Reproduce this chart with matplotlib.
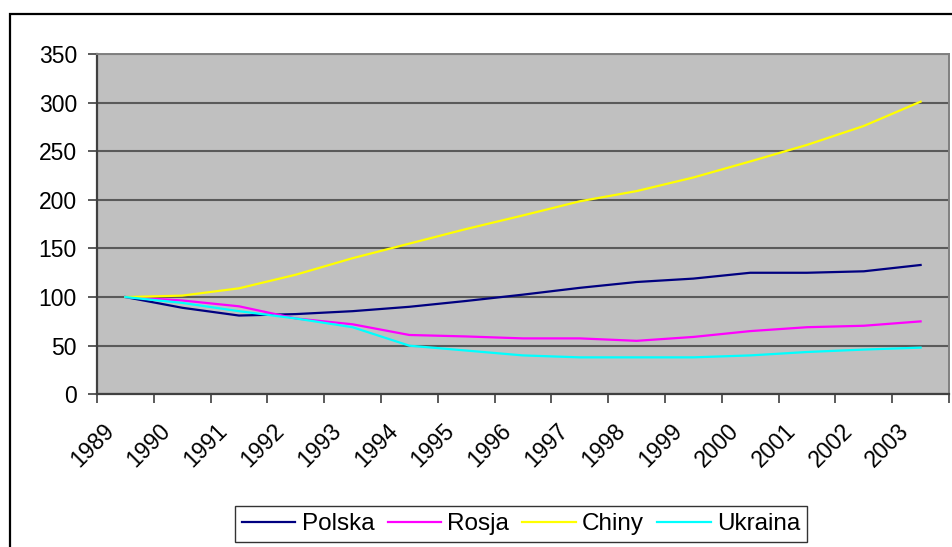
import numpy as np
import matplotlib
matplotlib.use('Agg')
import matplotlib.pyplot as plt
from matplotlib.patches import Rectangle
from matplotlib.transforms import ScaledTranslation

# ── Data (index, 1989 = 100) ─────────────────────────────────────────
years   = ['1989', '1990', '1991', '1992', '1993', '1994', '1995', '1996',
           '1997', '1998', '1999', '2000', '2001', '2002', '2003']
polska  = [100, 89, 81, 82.5, 85.5, 90, 96, 102.5, 109.5, 115.5, 119, 125, 125, 126.5, 133]
rosja   = [100, 96.5, 90.5, 78, 72, 61, 59.5, 57.5, 57.5, 55, 59, 65, 69, 70.5, 75]
chiny   = [100, 101.5, 109, 123, 140, 155, 170, 184, 198.5, 209, 223, 239.5, 256.5, 276, 301]
ukraina = [100, 94, 85.5, 78, 69, 50, 45, 40, 38, 38, 38, 40, 43.5, 46, 48]

series = [('Polska', polska, '#000080'),
          ('Rosja', rosja, '#FF00FF'),
          ('Chiny', chiny, '#FFFF00'),
          ('Ukraina', ukraina, '#00FFFF')]

plt.rcParams['font.family'] = ['Liberation Sans', 'DejaVu Sans']
FS = 16.5

fig = plt.figure(figsize=(9.53, 5.47), dpi=100)
fig.patch.set_facecolor('white')

# outer chart border (runs off the right and bottom edges)
fig.patches.append(Rectangle((10 / 953, -1), 2, 1 - 14 / 547 + 1,
                             transform=fig.transFigure, fill=False,
                             edgecolor='black', lw=1.6, clip_on=False))

ax = fig.add_axes([97 / 953, 1 - 394.3 / 547, 852 / 953, 340.3 / 547])
ax.set_facecolor('#C0C0C0')

x = np.arange(len(years))
for name, vals, col in series:
    ax.plot(x, vals, color=col, lw=1.6, label=name, zorder=3)

ax.set_xlim(-0.5, len(years) - 0.5)
ax.set_ylim(0, 350)
ax.set_yticks(np.arange(0, 351, 50))
ax.yaxis.grid(True, color='#5a5a5a', lw=1.5, zorder=1)
ax.set_axisbelow(True)

# tick marks between categories, labels at category centres
ax.set_xticks(np.arange(-0.5, len(years)), labels=[''] * (len(years) + 1))
ax.set_xticks(x, labels=years, minor=True)
ax.tick_params(axis='x', which='major', length=6.5, width=1.2, color='#404040')
ax.tick_params(axis='x', which='minor', length=0, pad=24, labelsize=FS)
ax.tick_params(axis='y', length=6.5, width=1.2, color='#404040',
               labelsize=FS, pad=8)
off = ScaledTranslation(-15 / 100, 0, fig.dpi_scale_trans)
for lbl in ax.get_xticklabels(minor=True):
    lbl.set_rotation(45)
    lbl.set_ha('right')
    lbl.set_va('center')
    lbl.set_rotation_mode('anchor')
    lbl.set_transform(lbl.get_transform() + off)

for s in ['left', 'bottom']:
    ax.spines[s].set_color('#404040')
    ax.spines[s].set_linewidth(1.6)
for s in ['top', 'right']:
    ax.spines[s].set_color('#808080')
    ax.spines[s].set_linewidth(1.4)

leg = fig.legend(loc='center', bbox_to_anchor=(521 / 953, 1 - 524 / 547),
                 ncol=4, fontsize=17.5, frameon=True, fancybox=False,
                 handlelength=2.2, handletextpad=0.25, columnspacing=0.55,
                 borderpad=0.3, borderaxespad=0)
leg.get_frame().set_edgecolor('black')
leg.get_frame().set_linewidth(1.0)
for h in leg.get_lines():
    h.set_linewidth(1.6)

fig.savefig('out.png', dpi=100, facecolor='white')
